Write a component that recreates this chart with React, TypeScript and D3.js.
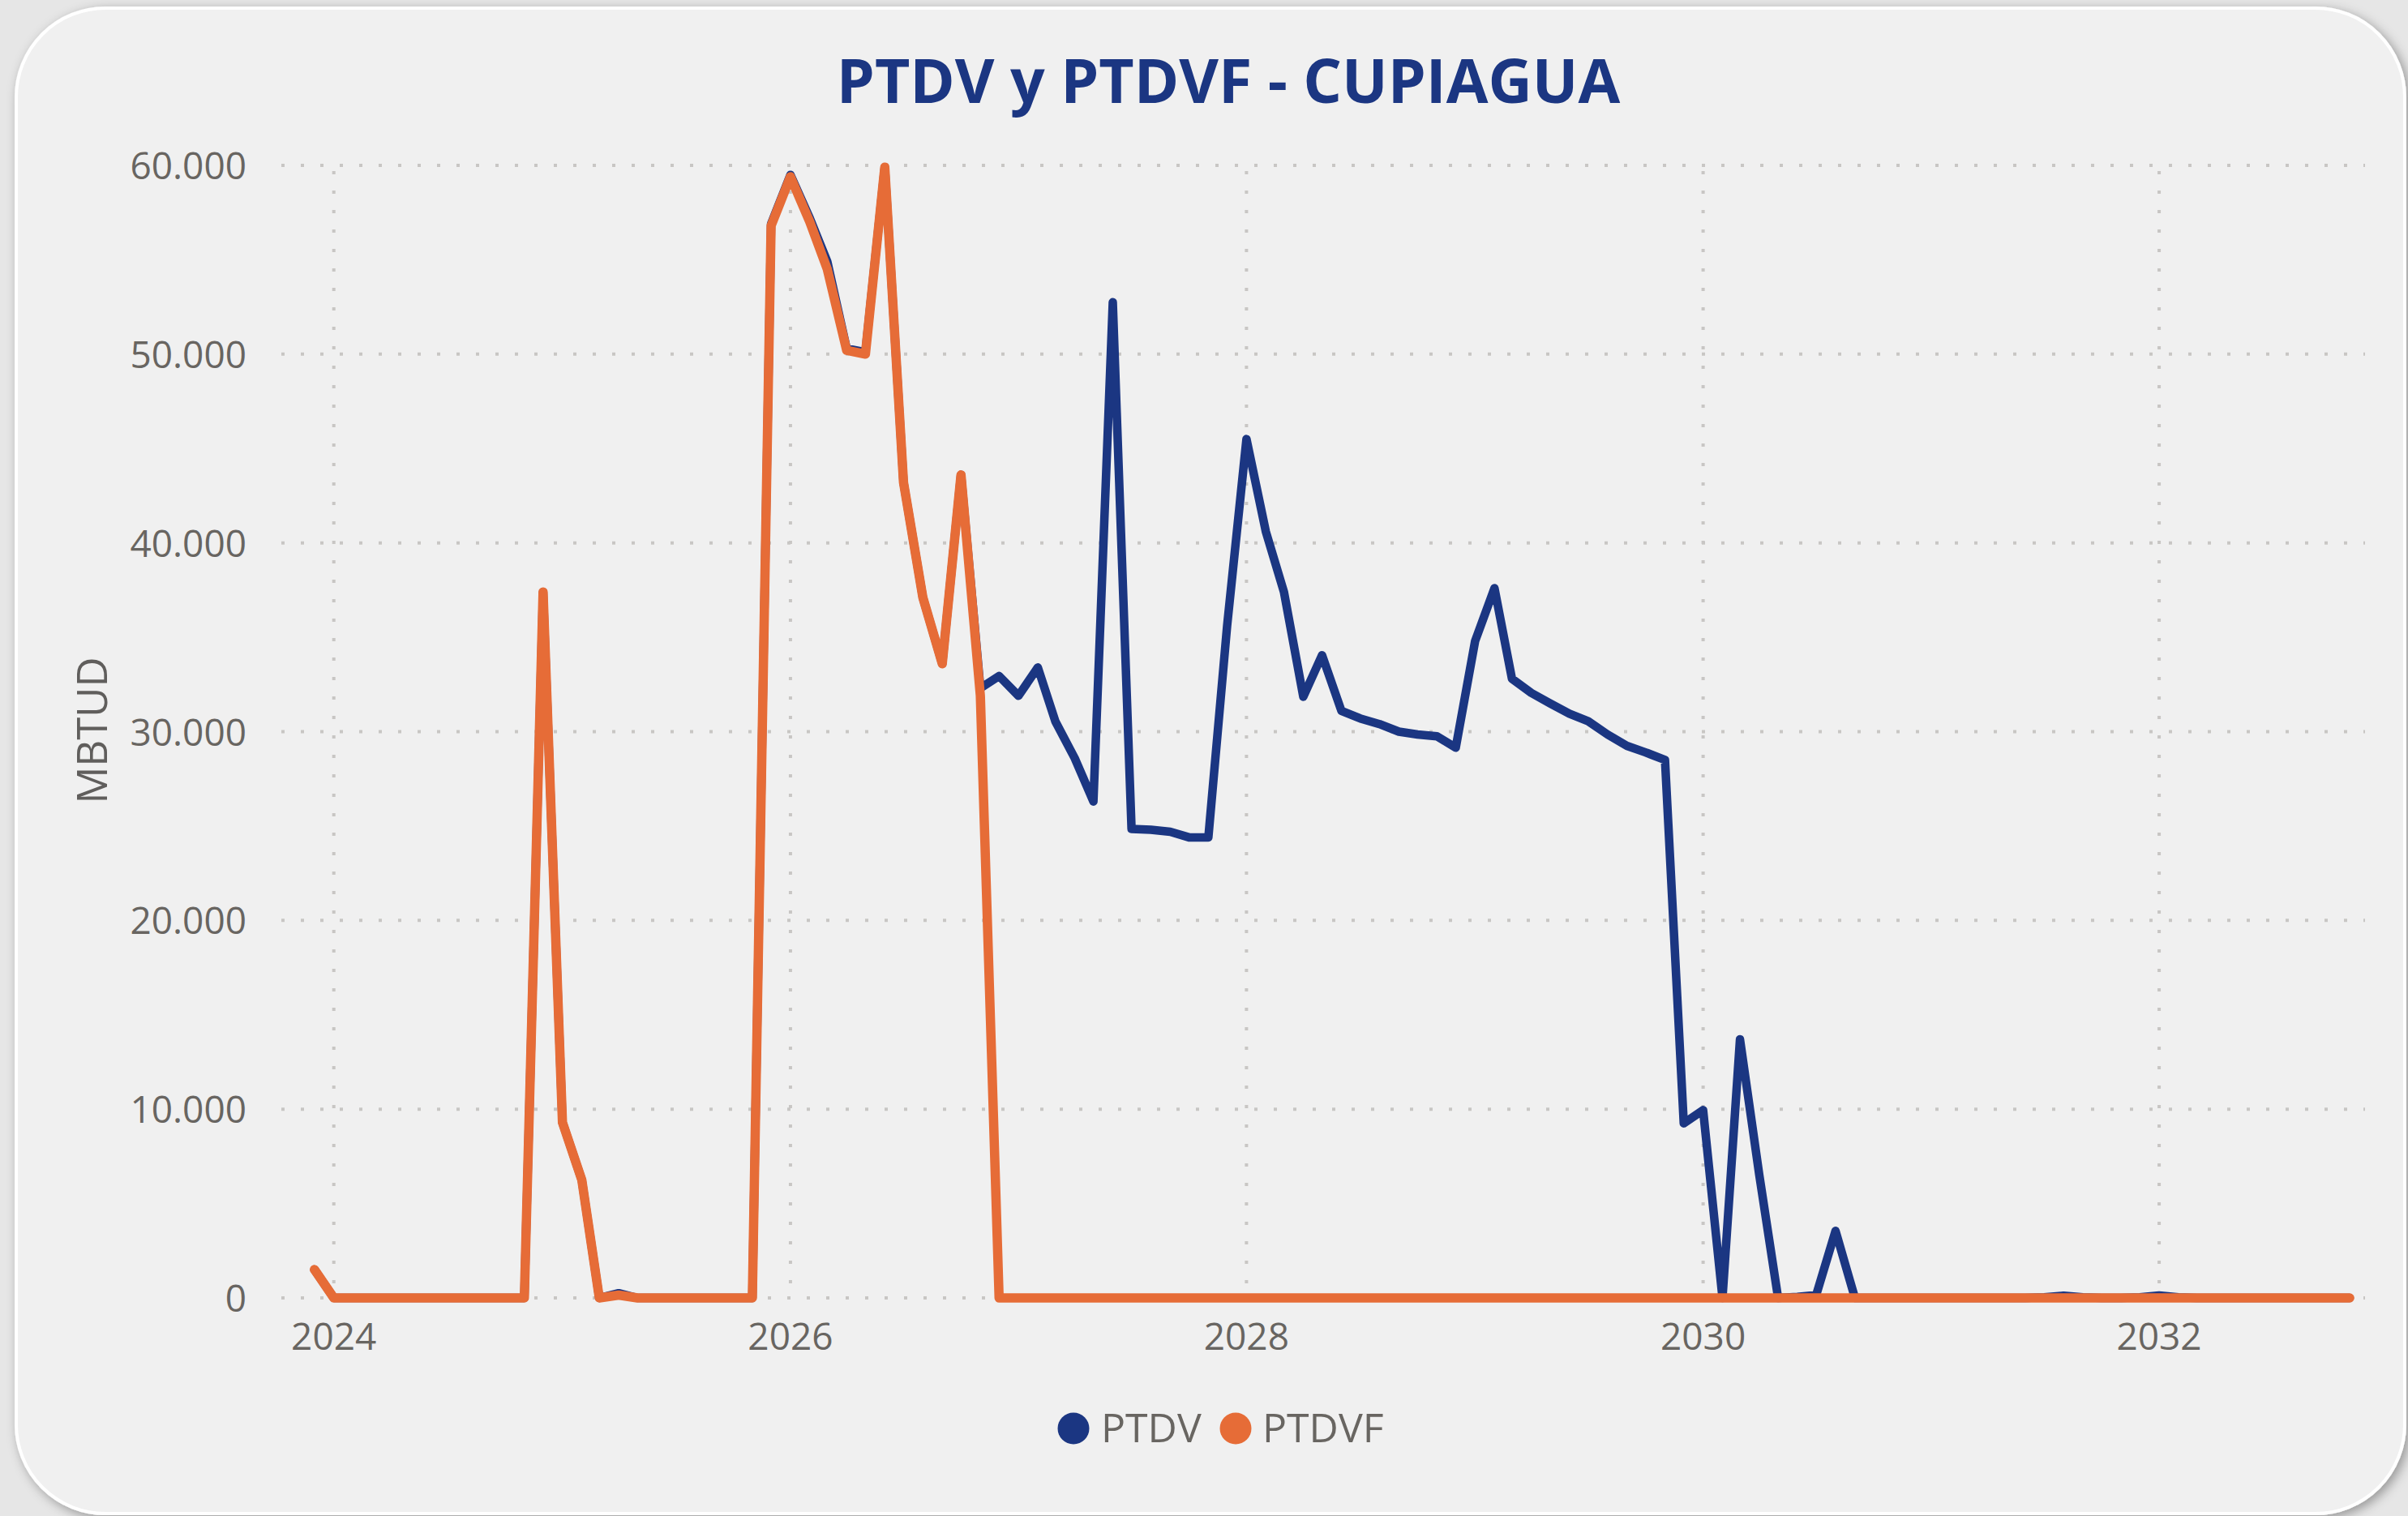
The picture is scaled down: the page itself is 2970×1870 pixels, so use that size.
import React from "react";
import * as d3 from "d3";

const W = 2970;
const H = 1870;

const TITLE = "PTDV y PTDVF - CUPIAGUA";
const Y_TITLE = "MBTUD";
const SERIES_NAMES = ["PTDV", "PTDVF"];
const SERIES_COLORS = ["#1B3682", "#E66C37"];

// monthly categories: Dec 2023 .. Nov 2032
const FIRST_MONTH = new Date(2023, 11, 1);
const LAST_MONTH = new Date(2032, 10, 1);
const MONTHS = d3.timeMonth.range(FIRST_MONTH, d3.timeMonth.offset(LAST_MONTH, 1));

const PTDV = [
  1500,
  0, 0, 0, 0, 0, 0, 0, 0, 0, 0, 0,
  37400, 9300, 6250, 0, 250, 0, 0, 0, 0, 0, 0, 0,
  56900, 59500, 57200, 54900, 50300, 50100, 59900, 43200, 37100, 33600, 43600, 32300,
  32950, 31900, 33400, 30550, 28600, 26300, 52750, 24850, 24800, 24700, 24400, 24400,
  35600, 45500, 40600, 37400, 31850, 34050, 31100, 30700, 30400, 30000, 29850, 29750,
  29150, 34800, 37600, 32800, 32050, 31500, 30950, 30550, 29850, 29250, 28900, 28500,
  9250, 9950, 0, 13700, 6500, 0, 50, 150, 3550, 0, 0, 0,
  0, 0, 0, 0, 0, 0, 0, 30, 120, 30, 0, 0,
  30, 130, 30, 0, 0, 0, 0, 0, 0, 0, 0, 0,
];

const PTDVF = [
  1500,
  0, 0, 0, 0, 0, 0, 0, 0, 0, 0, 0,
  37400, 9300, 6250, 0, 150, 0, 0, 0, 0, 0, 0, 0,
  56800, 59400, 57000, 54500, 50200, 50000, 59900, 43200, 37100, 33600, 43600, 31900,
  0, 0, 0, 0, 0, 0, 0, 0, 0, 0, 0, 0,
  0, 0, 0, 0, 0, 0, 0, 0, 0, 0, 0, 0,
  0, 0, 0, 0, 0, 0, 0, 0, 0, 0, 0, 0,
  0, 0, 0, 0, 0, 0, 0, 0, 0, 0, 0, 0,
  0, 0, 0, 0, 0, 0, 0, 0, 0, 0, 0, 0,
  0, 0, 0, 0, 0, 0, 0, 0, 0, 0, 0, 0,
];

const Y_TICKS = [0, 10000, 20000, 30000, 40000, 50000, 60000];
const X_DOMAIN = [new Date(2023, 9, 9), new Date(2032, 10, 23)];

const FONT = "'Segoe UI', 'Open Sans', sans-serif";
const TEXT_GRAY = "#686561";
const GRID = "#C8C6C4";

export default function App() {
  const left = 347;
  const right = 2915;
  const top = 204;
  const bottom = 1601;

  const x = d3.scaleTime().domain(X_DOMAIN).range([left, right]);
  const y = d3.scaleLinear().domain([0, 60000]).range([bottom, top]);

  const locale = d3.formatLocale({ decimal: ",", thousands: ".", grouping: [3], currency: ["$", ""] });
  const fmt = locale.format(",");
  const xTicks = x.ticks(d3.timeYear.every(2));
  const fmtYear = d3.timeFormat("%Y");

  const line = d3
    .line<number>()
    .x((_, i) => x(MONTHS[i]))
    .y((v) => y(v));

  const series = [PTDV, PTDVF];
  const widths = [10.5, 11.5];

  return (
    <div style={{ position: "absolute", left: 0, top: 0, width: W, height: H, background: "#E6E6E6" }}>
      <svg width={W} height={H} style={{ display: "block" }}>
        <defs>
          <filter id="sh" x="-5%" y="-5%" width="110%" height="110%">
            <feDropShadow dx="4" dy="4" stdDeviation="7" floodColor="#000" floodOpacity="0.35" />
          </filter>
        </defs>
        <rect x={0} y={0} width={W} height={H} fill="#E6E6E6" />
        <rect x={20} y={10} width={2946} height={1857} rx={110} ry={110} fill="#F0F0F0" stroke="#FFFFFF" strokeWidth={4} filter="url(#sh)" />

        <text x={1515} y={127} textAnchor="middle" fontFamily={FONT} fontWeight={700} fontSize={75} fill="#1B3682">
          {TITLE}
        </text>

        {/* horizontal gridlines */}
        {Y_TICKS.map((t) => (
          <line key={"h" + t} x1={left} x2={right + 2} y1={y(t)} y2={y(t)} stroke={GRID} strokeWidth={4} strokeDasharray="4 20" />
        ))}
        {/* vertical gridlines */}
        {xTicks.map((d) => (
          <line key={"v" + d.getTime()} x1={x(d)} x2={x(d)} y1={top + 7} y2={bottom} stroke={GRID} strokeWidth={4} strokeDasharray="4 20" />
        ))}

        {/* y tick labels */}
        {Y_TICKS.map((t) => (
          <text key={"yl" + t} x={304} y={y(t) + 17} textAnchor="end" fontFamily={FONT} fontSize={46} fill={TEXT_GRAY}>
            {fmt(t)}
          </text>
        ))}
        {/* x tick labels */}
        {xTicks.map((d) => (
          <text key={"xl" + d.getTime()} x={x(d)} y={1665} textAnchor="middle" fontFamily={FONT} fontSize={46} fill={TEXT_GRAY}>
            {fmtYear(d)}
          </text>
        ))}

        <text transform="translate(132,901) rotate(-90)" textAnchor="middle" fontFamily={FONT} fontSize={51} fill="#605E5C">
          {Y_TITLE}
        </text>

        {/* series */}
        {series.map((s, i) => (
          <path key={SERIES_NAMES[i]} d={line(s) || ""} fill="none" stroke={SERIES_COLORS[i]} strokeWidth={widths[i]} strokeLinejoin="round" strokeLinecap="round" />
        ))}

        {/* legend */}
        <circle cx={1324} cy={1762} r={19.5} fill={SERIES_COLORS[0]} />
        <text x={1358} y={1779} fontFamily={FONT} fontSize={50} fill={TEXT_GRAY}>{SERIES_NAMES[0]}</text>
        <circle cx={1524} cy={1762} r={19.5} fill={SERIES_COLORS[1]} />
        <text x={1557} y={1779} fontFamily={FONT} fontSize={50} fill={TEXT_GRAY}>{SERIES_NAMES[1]}</text>
      </svg>
    </div>
  );
}
